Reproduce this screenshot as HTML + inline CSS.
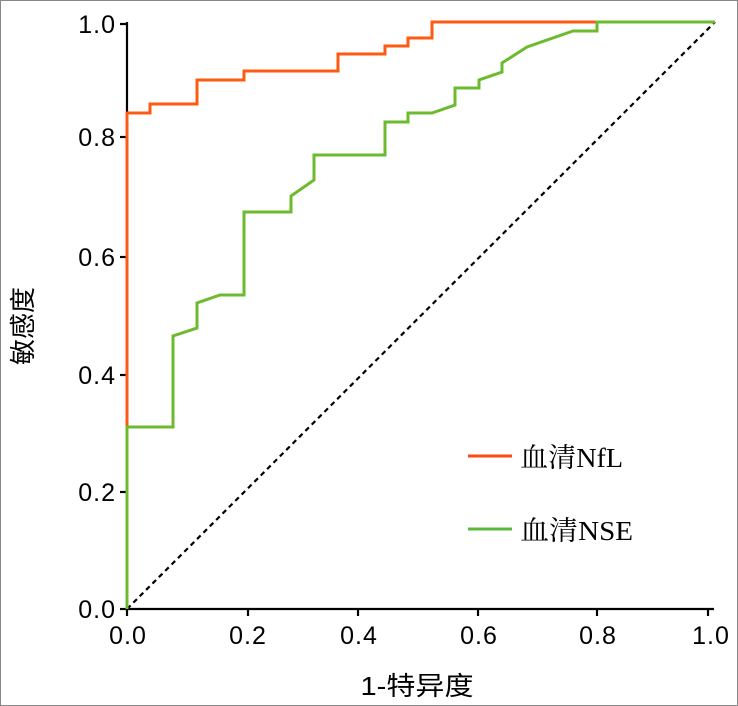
<!DOCTYPE html>
<html><head><meta charset="utf-8"><style>
html,body{margin:0;padding:0;background:#fff}
svg{display:block}
</style></head><body>
<svg width="738" height="706" xmlns="http://www.w3.org/2000/svg">
<rect x="0.5" y="0.5" width="737" height="705" fill="#fff" stroke="#888" stroke-width="1"/>
<g stroke="#000" stroke-width="2.2" fill="none">
<line x1="127" y1="609" x2="127" y2="22"/>
<line x1="127" y1="609" x2="714" y2="609"/>
<line x1="120" y1="609" x2="127" y2="609"/>
<line x1="120" y1="492" x2="127" y2="492"/>
<line x1="120" y1="375" x2="127" y2="375"/>
<line x1="120" y1="257" x2="127" y2="257"/>
<line x1="120" y1="137" x2="127" y2="137"/>
<line x1="120" y1="24" x2="127" y2="24"/>
<line x1="127" y1="609" x2="127" y2="616"/>
<line x1="248" y1="609" x2="248" y2="616"/>
<line x1="358" y1="609" x2="358" y2="616"/>
<line x1="478" y1="609" x2="478" y2="616"/>
<line x1="597" y1="609" x2="597" y2="616"/>
<line x1="708" y1="609" x2="708" y2="616"/>
</g>
<g font-family="Liberation Sans, sans-serif" font-size="25" fill="#000" text-anchor="end" letter-spacing="1">
<text x="116" y="618">0.0</text>
<text x="116" y="501">0.2</text>
<text x="116" y="384">0.4</text>
<text x="116" y="266">0.6</text>
<text x="116" y="146">0.8</text>
<text x="116" y="33">1.0</text>
</g>
<g font-family="Liberation Sans, sans-serif" font-size="25" fill="#000" text-anchor="middle" letter-spacing="1">
<text x="128" y="644">0.0</text>
<text x="248" y="644">0.2</text>
<text x="359" y="644">0.4</text>
<text x="479" y="644">0.6</text>
<text x="598" y="644">0.8</text>
<text x="711" y="644">1.0</text>
</g>
<line x1="127" y1="609" x2="715" y2="22" stroke="#000" stroke-width="2.2" stroke-dasharray="5,4"/>
<polyline fill="none" stroke="#ff5a12" stroke-width="3" points="127,609 127,113 150,113 150,104 197,104 197,80 244,80 244,71 338,71 338,54 385,54 385,46 408,46 408,38 432,38 432,22 715,22"/>
<polyline fill="none" stroke="#6cbb2e" stroke-width="3" points="127,609 127,427 173,427 173,336 197,328 197,303 220,295 244,295 244,212 291,212 291,196 314,180 314,155 385,155 385,122 408,122 408,113 432,113 455,105 455,88 479,88 479,80 502,72 502,63 527,47 573,31 597,31 597,22 715,22"/>
<line x1="468" y1="456" x2="512" y2="456" stroke="#ff4a12" stroke-width="3"/>
<line x1="468" y1="529" x2="512" y2="529" stroke="#5cb83a" stroke-width="3"/>
<g font-family="Liberation Serif, Noto Serif CJK SC, serif" font-size="27" fill="#000">
<text x="520" y="467" textLength="103" lengthAdjust="spacingAndGlyphs">血清NfL</text>
<text x="520" y="540" textLength="113" lengthAdjust="spacingAndGlyphs">血清NSE</text>
</g>
<text x="417" y="695" font-family="Liberation Sans, Noto Sans CJK SC, sans-serif" font-size="26" text-anchor="middle" fill="#000" textLength="113" lengthAdjust="spacingAndGlyphs">1-特异度</text>
<text transform="translate(32,326) rotate(-90)" font-family="Liberation Sans, Noto Sans CJK SC, sans-serif" font-size="26" text-anchor="middle" fill="#000">敏感度</text>
</svg>
</body></html>
